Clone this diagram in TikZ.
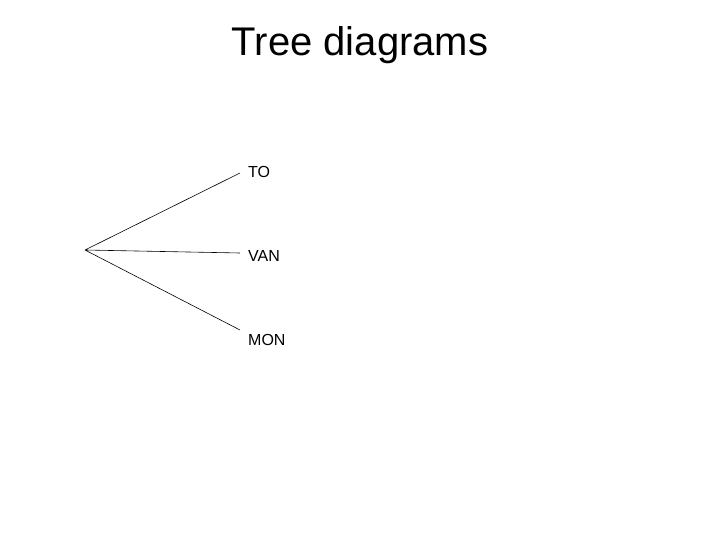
\documentclass[tikz,border=0pt]{standalone}
\usepackage{fontspec}
\setmainfont{Liberation Sans}
\begin{document}
\begin{tikzpicture}[x=1pt,y=-1pt,lbl/.style={anchor=west,inner sep=0pt,font=\fontsize{16}{18}\selectfont}]
\useasboundingbox (0,0) rectangle (720,540);
\node[font=\fontsize{40}{44}\selectfont] (title) at (360,45) {Tree diagrams};
\coordinate (root) at (85,250);
\coordinate (a) at (240,173);
\coordinate (b) at (240,253);
\coordinate (c) at (240,330);
\node[lbl] (to) at (248,172) {TO};
\node[lbl] (van) at (248,256) {VAN};
\node[lbl] (mon) at (248,340) {MON};
\draw[line width=0.6pt] (root) -- (a) (root) -- (b) (root) -- (c);
\end{tikzpicture}
\end{document}
